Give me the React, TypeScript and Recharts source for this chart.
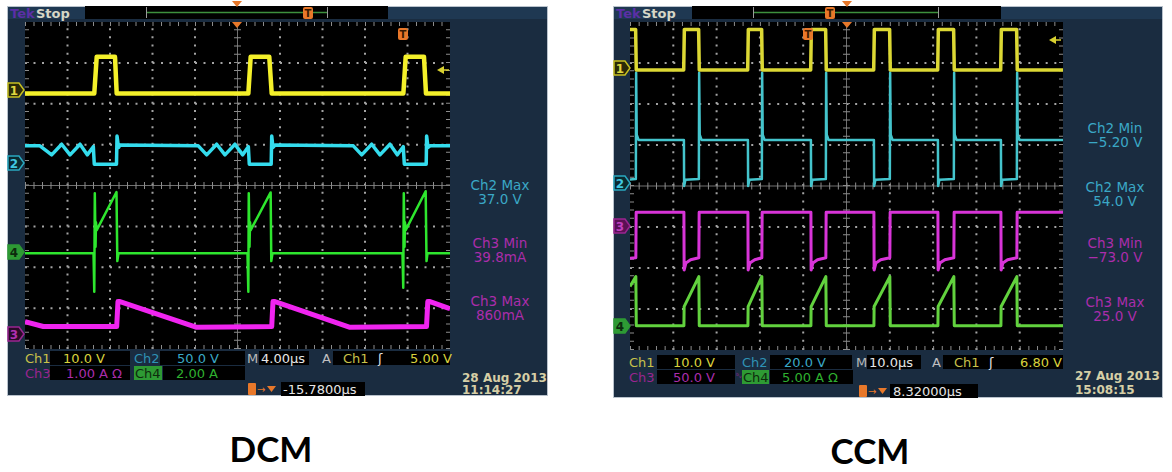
import React from 'react';
import { LineChart, Line, XAxis, YAxis, ReferenceLine } from 'recharts';

type P = { t: number; v: number };

// ---------- DCM scope (4 µs/div, values in screen divisions, centre = 0) ----------
const dcmCh1: P[] = [
  { t: 0, v: 2.25 }, { t: 6.52, v: 2.25 }, { t: 6.75, v: 3.15 }, { t: 8.47, v: 3.15 }, { t: 8.63, v: 2.25 },
  { t: 21.02, v: 2.25 }, { t: 21.24, v: 3.15 }, { t: 22.99, v: 3.15 }, { t: 23.22, v: 2.25 },
  { t: 35.61, v: 2.25 }, { t: 35.83, v: 3.15 }, { t: 37.55, v: 3.15 }, { t: 37.74, v: 2.25 }, { t: 40, v: 2.25 },
];
const dcmCh2: P[] = [
  { t: 0, v: 0.97 }, { t: 1.41, v: 0.97 }, { t: 2.51, v: 0.75 }, { t: 3.45, v: 1.01 }, { t: 4.24, v: 0.75 },
  { t: 5.18, v: 1.01 }, { t: 5.86, v: 0.75 }, { t: 6.43, v: 0.95 }, { t: 6.52, v: 0.52 }, { t: 8.47, v: 0.52 },
  { t: 8.61, v: 0.52 }, { t: 8.66, v: 1.21 }, { t: 8.8, v: 0.93 }, { t: 8.94, v: 0.99 }, { t: 16.31, v: 0.97 },
  { t: 17.1, v: 0.75 }, { t: 18.04, v: 1.01 }, { t: 18.82, v: 0.75 }, { t: 19.76, v: 1.01 }, { t: 20.49, v: 0.75 },
  { t: 21.02, v: 0.95 }, { t: 21.11, v: 0.52 }, { t: 23.06, v: 0.52 }, { t: 23.17, v: 0.52 }, { t: 23.22, v: 1.21 },
  { t: 23.34, v: 0.93 }, { t: 23.53, v: 0.99 }, { t: 30.9, v: 0.97 }, { t: 31.69, v: 0.75 }, { t: 32.63, v: 1.01 },
  { t: 33.41, v: 0.75 }, { t: 34.35, v: 1.01 }, { t: 35.04, v: 0.75 }, { t: 35.6, v: 0.95 }, { t: 35.7, v: 0.52 },
  { t: 37.58, v: 0.52 }, { t: 37.76, v: 0.52 }, { t: 37.8, v: 1.21 }, { t: 37.93, v: 0.93 }, { t: 38.12, v: 0.97 },
  { t: 40, v: 0.97 },
];
const dcmCh3: P[] = [
  { t: 0, v: -3.33 }, { t: 1.72, v: -3.45 }, { t: 8.63, v: -3.45 }, { t: 8.75, v: -2.84 }, { t: 8.94, v: -2.84 },
  { t: 16.16, v: -3.47 }, { t: 23.22, v: -3.45 }, { t: 23.34, v: -2.84 }, { t: 23.53, v: -2.84 },
  { t: 30.59, v: -3.47 }, { t: 37.79, v: -3.45 }, { t: 37.91, v: -2.84 }, { t: 38.12, v: -2.84 },
  { t: 39.84, v: -3.0 }, { t: 40, v: -3.01 },
];
const dcmCh4: P[] = [
  { t: 0, v: -1.66 }, { t: 6.45, v: -1.66 }, { t: 6.52, v: -2.6 }, { t: 6.57, v: -0.19 }, { t: 6.64, v: -1.5 },
  { t: 6.68, v: -0.9 }, { t: 6.75, v: -1.09 }, { t: 8.61, v: -0.16 }, { t: 8.69, v: -1.85 }, { t: 8.8, v: -1.66 },
  { t: 20.94, v: -1.66 }, { t: 21.02, v: -2.6 }, { t: 21.06, v: -0.19 }, { t: 21.13, v: -1.5 }, { t: 21.18, v: -0.9 },
  { t: 21.24, v: -1.09 }, { t: 23.12, v: -0.17 }, { t: 23.18, v: -1.85 }, { t: 23.29, v: -1.66 },
  { t: 35.53, v: -1.66 }, { t: 35.6, v: -2.5 }, { t: 35.65, v: -0.19 }, { t: 35.72, v: -1.5 }, { t: 35.76, v: -0.9 },
  { t: 35.83, v: -1.09 }, { t: 37.71, v: -0.14 }, { t: 37.79, v: -1.85 }, { t: 37.88, v: -1.66 }, { t: 40, v: -1.66 },
];

// ---------- CCM scope (10 µs/div) ----------
const ccmCh1: P[] = [
  { t: 0, v: 3.82 }, { t: 1.3, v: 3.82 }, { t: 1.45, v: 2.83 }, { t: 12.4, v: 2.83 }, { t: 12.55, v: 3.82 },
  { t: 15.85, v: 3.82 }, { t: 16.0, v: 2.83 }, { t: 27.18, v: 2.83 }, { t: 27.33, v: 3.82 }, { t: 30.4, v: 3.82 },
  { t: 30.55, v: 2.83 }, { t: 41.73, v: 2.83 }, { t: 41.88, v: 3.82 }, { t: 45.18, v: 3.82 }, { t: 45.33, v: 2.83 },
  { t: 56.28, v: 2.83 }, { t: 56.43, v: 3.82 }, { t: 59.96, v: 3.82 }, { t: 60.11, v: 2.83 }, { t: 71.06, v: 2.83 },
  { t: 71.21, v: 3.82 }, { t: 74.74, v: 3.82 }, { t: 74.89, v: 2.83 }, { t: 85.61, v: 2.83 }, { t: 85.76, v: 3.82 },
  { t: 89.29, v: 3.82 }, { t: 89.44, v: 2.83 }, { t: 100, v: 2.83 },
];
const ccmCh2: P[] = [
  { t: 0, v: 0.16 }, { t: 1.35, v: 0.17 }, { t: 1.42, v: 2.76 }, { t: 1.55, v: 1.25 }, { t: 2.0, v: 1.12 },
  { t: 12.45, v: 1.12 }, { t: 12.5, v: 0.0 }, { t: 12.8, v: 0.15 }, { t: 15.9, v: 0.17 }, { t: 15.97, v: 2.76 },
  { t: 16.1, v: 1.25 }, { t: 16.55, v: 1.12 }, { t: 27.23, v: 1.12 }, { t: 27.28, v: 0.0 }, { t: 27.58, v: 0.15 },
  { t: 30.45, v: 0.17 }, { t: 30.52, v: 2.76 }, { t: 30.65, v: 1.25 }, { t: 31.1, v: 1.12 }, { t: 41.78, v: 1.12 },
  { t: 41.83, v: 0.0 }, { t: 42.13, v: 0.15 }, { t: 45.23, v: 0.17 }, { t: 45.3, v: 2.76 }, { t: 45.43, v: 1.25 },
  { t: 45.88, v: 1.12 }, { t: 56.33, v: 1.12 }, { t: 56.38, v: 0.0 }, { t: 56.68, v: 0.15 }, { t: 60.01, v: 0.17 },
  { t: 60.08, v: 2.76 }, { t: 60.21, v: 1.25 }, { t: 60.66, v: 1.12 }, { t: 71.11, v: 1.12 }, { t: 71.16, v: 0.0 },
  { t: 71.46, v: 0.15 }, { t: 74.79, v: 0.17 }, { t: 74.86, v: 2.76 }, { t: 74.99, v: 1.25 }, { t: 75.44, v: 1.12 },
  { t: 85.66, v: 1.12 }, { t: 85.71, v: 0.0 }, { t: 86.01, v: 0.15 }, { t: 89.34, v: 0.17 }, { t: 89.41, v: 2.76 },
  { t: 89.54, v: 1.25 }, { t: 89.99, v: 1.12 }, { t: 100, v: 1.12 },
];
const ccmCh3: P[] = [
  { t: 0, v: -1.76 }, { t: 1.35, v: -1.75 }, { t: 1.42, v: -0.64 }, { t: 12.45, v: -0.64 }, { t: 12.5, v: -2.05 },
  { t: 12.9, v: -1.88 }, { t: 14.0, v: -1.8 }, { t: 15.9, v: -1.75 }, { t: 15.97, v: -0.64 }, { t: 27.23, v: -0.64 },
  { t: 27.28, v: -2.05 }, { t: 27.68, v: -1.88 }, { t: 28.8, v: -1.8 }, { t: 30.45, v: -1.75 }, { t: 30.52, v: -0.64 },
  { t: 41.78, v: -0.64 }, { t: 41.83, v: -2.05 }, { t: 42.23, v: -1.88 }, { t: 43.3, v: -1.8 }, { t: 45.23, v: -1.75 },
  { t: 45.3, v: -0.64 }, { t: 56.33, v: -0.64 }, { t: 56.38, v: -2.05 }, { t: 56.78, v: -1.88 }, { t: 57.9, v: -1.8 },
  { t: 60.01, v: -1.75 }, { t: 60.08, v: -0.64 }, { t: 71.11, v: -0.64 }, { t: 71.16, v: -2.05 }, { t: 71.56, v: -1.88 },
  { t: 72.7, v: -1.8 }, { t: 74.79, v: -1.75 }, { t: 74.86, v: -0.64 }, { t: 85.66, v: -0.64 }, { t: 85.71, v: -2.05 },
  { t: 86.11, v: -1.88 }, { t: 87.2, v: -1.8 }, { t: 89.34, v: -1.75 }, { t: 89.41, v: -0.64 }, { t: 100, v: -0.64 },
];
const ccmCh4: P[] = [
  { t: 0, v: -2.45 }, { t: 1.35, v: -2.21 }, { t: 1.45, v: -3.41 }, { t: 12.45, v: -3.41 }, { t: 12.5, v: -2.94 },
  { t: 15.9, v: -2.21 }, { t: 16.0, v: -3.41 }, { t: 27.23, v: -3.41 }, { t: 27.28, v: -2.94 }, { t: 30.45, v: -2.21 },
  { t: 30.55, v: -3.41 }, { t: 41.78, v: -3.41 }, { t: 41.83, v: -2.94 }, { t: 45.23, v: -2.21 }, { t: 45.33, v: -3.41 },
  { t: 56.33, v: -3.41 }, { t: 56.38, v: -2.94 }, { t: 60.01, v: -2.21 }, { t: 60.11, v: -3.41 }, { t: 71.11, v: -3.41 },
  { t: 71.16, v: -2.94 }, { t: 74.79, v: -2.21 }, { t: 74.89, v: -3.41 }, { t: 85.66, v: -3.41 }, { t: 85.71, v: -2.94 },
  { t: 89.34, v: -2.21 }, { t: 89.44, v: -3.41 }, { t: 100, v: -3.41 },
];

const dcmTimeTicks = [0, 4, 8, 12, 16, 20, 24, 28, 32, 36, 40];
const ccmTimeTicks = [0, 10, 20, 30, 40, 50, 60, 70, 80, 90, 100];
const divTicks = [-4, -3, -2, -1, 0, 1, 2, 3, 4];

const F = "'DejaVu Sans', Verdana, sans-serif";
const FRAME = '#1a2c40';
const FRAME2 = '#1f3852';
const GRID = '#8c8c8c';
const DOT = '#a4a4a4';

type Series = { data: P[]; color: string; width: number };

function ScopeChart({ w, h, xMax, xTicks, series }: { w: number; h: number; xMax: number; xTicks: number[]; series: Series[] }) {
  const hMinor = w / 50;
  const vMinor = h / 40;
  const innerX = xTicks.filter((t) => t !== 0 && t !== xMax && t !== xMax / 2);
  const innerY = divTicks.filter((t) => t !== 0 && t !== 4 && t !== -4);
  return (
    <LineChart width={w} height={h} margin={{ top: 0, right: 0, bottom: 0, left: 0 }}>
      <XAxis type="number" dataKey="t" domain={[0, xMax]} ticks={xTicks} hide allowDataOverflow />
      <YAxis type="number" dataKey="v" domain={[-4, 4]} ticks={divTicks} hide allowDataOverflow />
      {innerY.map((y) => (
        <ReferenceLine key={'h' + y} y={y} stroke={DOT} strokeWidth={2} strokeDasharray={`2 ${hMinor - 2}`} />
      ))}
      {innerX.map((x) => (
        <ReferenceLine key={'v' + x} x={x} stroke={DOT} strokeWidth={2} strokeDasharray={`2 ${vMinor - 2}`} />
      ))}
      <ReferenceLine x={xMax / 2} stroke="#707070" strokeWidth={1} />
      <ReferenceLine y={0} stroke="#707070" strokeWidth={1} />
      <ReferenceLine x={xMax / 2} stroke={GRID} strokeWidth={7} strokeDasharray={`1 ${vMinor - 1}`} />
      <ReferenceLine y={0} stroke={GRID} strokeWidth={7} strokeDasharray={`1 ${hMinor - 1}`} />
      <ReferenceLine x={0} stroke={GRID} strokeWidth={8} strokeDasharray={`1 ${vMinor - 1}`} />
      <ReferenceLine x={xMax} stroke={GRID} strokeWidth={8} strokeDasharray={`1 ${vMinor - 1}`} />
      <ReferenceLine y={4} stroke={GRID} strokeWidth={8} strokeDasharray={`1 ${hMinor - 1}`} />
      <ReferenceLine y={-4} stroke={GRID} strokeWidth={8} strokeDasharray={`1 ${hMinor - 1}`} />
      {series.map((s, i) => (
        <Line key={i} data={s.data} dataKey="v" type="linear" stroke={s.color} strokeWidth={s.width}
          dot={false} activeDot={false} isAnimationActive={false} strokeLinejoin="round" />
      ))}
    </LineChart>
  );
}

function Tx({ x, y, c, children, size = 13, weight = 'normal', anchor = 'start' }: any) {
  return (
    <text x={x} y={y} fill={c} fontSize={size} fontFamily={F} fontWeight={weight} textAnchor={anchor} dominantBaseline="central">
      {children}
    </text>
  );
}

function Tag({ x, y, label, stroke, fill, tc }: any) {
  return (
    <g>
      <polygon points={`${x},${y - 7} ${x + 11},${y - 7} ${x + 16},${y} ${x + 11},${y + 7} ${x},${y + 7}`}
        fill={fill} stroke={stroke} strokeWidth={1.5} />
      <Tx x={x + 6} y={y + 0.5} c={tc} size={12} weight="bold" anchor="middle">{label}</Tx>
    </g>
  );
}

function Tri({ x, y }: any) {
  return <polygon points={`${x - 5},${y} ${x + 5},${y} ${x},${y + 6}`} fill="#e8782a" />;
}

function TMark({ x, y }: any) {
  return (
    <g>
      <rect x={x - 5} y={y - 6} width={10} height={12} rx={2} fill="#e8782a" />
      <Tx x={x} y={y} c="#3a1a00" size={10} weight="bold" anchor="middle">T</Tx>
    </g>
  );
}

function Box({ x, y, w, h = 14, fill = '#000' }: any) {
  return <rect x={x} y={y} width={w} height={h} fill={fill} />;
}

const Y1 = '#c9c24a';
const Y2 = '#d8d23c';
const C1 = '#2f93b5';
const C2 = '#3aa8c6';
const M1 = '#9a2590';
const M2 = '#ab2dab';
const G1 = '#2fb02f';
const W = '#e6e6e6';
const D = '#d6cfa6';

export default function App() {
  return (
    <div style={{ position: 'absolute', left: 0, top: 0, width: 1172, height: 472, background: '#fff', overflow: 'hidden' }}>
      {/* background layer */}
      <svg width={1172} height={472} style={{ position: 'absolute', left: 0, top: 0 }}>
        <rect x={0} y={0} width={1172} height={472} fill="#fff" />
        {/* left frame */}
        <rect x={7.5} y={6.5} width={540} height={389} fill={FRAME} stroke="#b9c2cc" strokeWidth={1} />
        <rect x={8} y={7} width={77} height={12} fill={FRAME2} />
        <rect x={388} y={7} width={159} height={12} fill={FRAME2} />
        <rect x={85} y={6} width={303} height={13} fill="#000" />
        <rect x={25} y={22} width={425} height={327} fill="#000" />
        {/* right frame */}
        <rect x={613.5} y={6.5} width={549} height={391} fill={FRAME} stroke="#b9c2cc" strokeWidth={1} />
        <rect x={614} y={7} width={78} height={12} fill={FRAME2} />
        <rect x={1001} y={7} width={161} height={12} fill={FRAME2} />
        <rect x={692} y={6} width={309} height={13} fill="#000" />
        <rect x={630} y={22} width={433} height={328} fill="#000" />
        {/* left bottom boxes */}
        <Box x={50} y={351} w={80} />
        <Box x={160} y={351} w={85} />
        <Box x={259} y={351} w={50} />
        <Box x={333} y={351} w={117} />
        <Box x={50} y={366} w={80} />
        <Box x={134} y={366} w={28} fill="#2e9a34" />
        <Box x={163} y={366} w={82} />
        <Box x={281} y={382} w={84} />
        {/* right bottom boxes */}
        <Box x={657} y={355} w={78} />
        <Box x={770} y={355} w={82} />
        <Box x={867} y={355} w={54} />
        <Box x={943} y={355} w={120} />
        <Box x={657} y={370} w={78} />
        <Box x={742} y={370} w={27} fill="#2e9a34" />
        <Box x={770} y={370} w={83} />
        <Box x={890} y={384} w={88} />
      </svg>

      {/* charts */}
      <div style={{ position: 'absolute', left: 25, top: 22 }}>
        <ScopeChart w={425} h={327} xMax={40} xTicks={dcmTimeTicks}
          series={[
            { data: dcmCh3, color: '#f024f0', width: 5 },
            { data: dcmCh4, color: '#2ee62e', width: 2.5 },
            { data: dcmCh2, color: '#34dced', width: 3.5 },
            { data: dcmCh1, color: '#f4f02a', width: 4.5 },
          ]} />
      </div>
      <div style={{ position: 'absolute', left: 630, top: 22 }}>
        <ScopeChart w={433} h={328} xMax={100} xTicks={ccmTimeTicks}
          series={[
            { data: ccmCh3, color: '#d834d8', width: 3 },
            { data: ccmCh4, color: '#62d23e', width: 3 },
            { data: ccmCh2, color: '#44c4cc', width: 2.5 },
            { data: ccmCh1, color: '#dcd834', width: 3.5 },
          ]} />
      </div>

      {/* overlay layer */}
      <svg width={1172} height={472} style={{ position: 'absolute', left: 0, top: 0, pointerEvents: 'none' }}>
        {/* ===== LEFT (DCM) ===== */}
        <Tx x={10} y={13} c="#5b2fa6" size={13} weight="bold">Tek</Tx>
        <Tx x={36} y={13} c="#d6d6c6" size={13} weight="bold">Stop</Tx>
        <line x1={146.5} y1={7} x2={146.5} y2={18} stroke="#9a9a9a" />
        <line x1={327.5} y1={7} x2={327.5} y2={18} stroke="#9a9a9a" />
        <line x1={147} y1={12.5} x2={327} y2={12.5} stroke="#3d8f3d" strokeWidth={1.5} />
        <TMark x={308} y={13} />
        <Tri x={237} y={1} />
        <Tri x={237} y={22} />
        <TMark x={403} y={34} />
        <polygon points="437,70 444,66 444,74" fill="#d8d030" />
        <line x1={443} y1={70} x2={449} y2={70} stroke="#d8d030" strokeWidth={1.5} />

        <Tag x={8} y={90} label="1" stroke="#c8c020" fill="#2a2a08" tc="#e0d840" />
        <Tag x={8} y={163} label="2" stroke="#2aa8c0" fill="#0a2a30" tc="#40c8e0" />
        <Tag x={8} y={252} label="4" stroke="#2e9a34" fill="#2e9a34" tc="#0d2a0d" />
        <Tag x={8} y={334} label="3" stroke="#9a2590" fill="#2a0a28" tc="#b030b0" />

        <Tx x={500} y={185} c={C2} size={13.5} anchor="middle">Ch2 Max</Tx>
        <Tx x={500} y={199} c={C2} size={13.5} anchor="middle">37.0 V</Tx>
        <Tx x={500} y={243} c={M2} size={13.5} anchor="middle">Ch3 Min</Tx>
        <Tx x={500} y={257} c={M2} size={13.5} anchor="middle">39.8mA</Tx>
        <Tx x={500} y={301} c={M2} size={13.5} anchor="middle">Ch3 Max</Tx>
        <Tx x={500} y={315} c={M2} size={13.5} anchor="middle">860mA</Tx>

        <Tx x={25} y={358} c={Y1}>Ch1</Tx>
        <Tx x={63} y={358} c={Y2}>10.0 V</Tx>
        <Tx x={134} y={358} c={C1}>Ch2</Tx>
        <Tx x={177} y={358} c={C2}>50.0 V</Tx>
        <Tx x={247} y={358} c="#b8b8b8">M</Tx>
        <Tx x={261} y={358} c={W}>4.00µs</Tx>
        <Tx x={322} y={358} c="#c0c0c0">A</Tx>
        <Tx x={343} y={358} c={Y1}>Ch1</Tx>
        <Tx x={378} y={358} c={W}>ʃ</Tx>
        <Tx x={410} y={358} c={Y2}>5.00 V</Tx>
        <Tx x={25} y={373} c={M1}>Ch3</Tx>
        <Tx x={66} y={373} c={M2}>1.00 A Ω</Tx>
        <Tx x={135} y={373} c="#0d2a0d">Ch4</Tx>
        <Tx x={176} y={373} c={G1}>2.00 A</Tx>
        <rect x={248} y={383} width={8} height={12} rx={1} fill="#e8782a" />
        <Tx x={257} y={389} c="#e8782a" size={10}>→</Tx>
        <polygon points="267,386 276,386 271.5,392" fill="#e8782a" />
        <Tx x={283} y={389} c={W}>-15.7800µs</Tx>
        <Tx x={462} y={378} c={D} size={12} weight="bold">28 Aug 2013</Tx>
        <Tx x={462} y={390} c={D} size={12} weight="bold">11:14:27</Tx>

        {/* ===== RIGHT (CCM) ===== */}
        <Tx x={616} y={13} c="#5b2fa6" size={13} weight="bold">Tek</Tx>
        <Tx x={642} y={13} c="#d6d6c6" size={13} weight="bold">Stop</Tx>
        <line x1={753.5} y1={7} x2={753.5} y2={18} stroke="#9a9a9a" />
        <line x1={938.5} y1={7} x2={938.5} y2={18} stroke="#9a9a9a" />
        <line x1={754} y1={12.5} x2={938} y2={12.5} stroke="#3d8f3d" strokeWidth={1.5} />
        <TMark x={830} y={13} />
        <Tri x={847} y={1} />
        <Tri x={847} y={22} />
        <TMark x={808} y={34} />
        <polygon points="1049,40 1056,36 1056,44" fill="#d8d030" />
        <line x1={1055} y1={40} x2={1061} y2={40} stroke="#d8d030" strokeWidth={1.5} />

        <Tag x={614} y={68} label="1" stroke="#c8c020" fill="#2a2a08" tc="#e0d840" />
        <Tag x={614} y={183} label="2" stroke="#2aa8c0" fill="#0a2a30" tc="#40c8e0" />
        <Tag x={614} y={226} label="3" stroke="#9a2590" fill="#5a1054" tc="#c040c0" />
        <Tag x={614} y={326} label="4" stroke="#2e9a34" fill="#2e9a34" tc="#0d2a0d" />

        <Tx x={1115} y={128} c={C2} size={13.5} anchor="middle">Ch2 Min</Tx>
        <Tx x={1115} y={142} c={C2} size={13.5} anchor="middle">−5.20 V</Tx>
        <Tx x={1115} y={187} c={C2} size={13.5} anchor="middle">Ch2 Max</Tx>
        <Tx x={1115} y={201} c={C2} size={13.5} anchor="middle">54.0 V</Tx>
        <Tx x={1115} y={243} c={M2} size={13.5} anchor="middle">Ch3 Min</Tx>
        <Tx x={1115} y={257} c={M2} size={13.5} anchor="middle">−73.0 V</Tx>
        <Tx x={1115} y={302} c={M2} size={13.5} anchor="middle">Ch3 Max</Tx>
        <Tx x={1115} y={316} c={M2} size={13.5} anchor="middle">25.0 V</Tx>

        <Tx x={629} y={362} c={Y1}>Ch1</Tx>
        <Tx x={673} y={362} c={Y2}>10.0 V</Tx>
        <Tx x={742} y={362} c={C1}>Ch2</Tx>
        <Tx x={784} y={362} c={C2}>20.0 V</Tx>
        <Tx x={856} y={362} c="#b8b8b8">M</Tx>
        <Tx x={869} y={362} c={W}>10.0µs</Tx>
        <Tx x={932} y={362} c="#c0c0c0">A</Tx>
        <Tx x={954} y={362} c={Y1}>Ch1</Tx>
        <Tx x={989} y={362} c={W}>ʃ</Tx>
        <Tx x={1020} y={362} c={Y2}>6.80 V</Tx>
        <Tx x={629} y={377} c={M1}>Ch3</Tx>
        <Tx x={673} y={377} c={M2}>50.0 V</Tx>
        <Tx x={736} y={376} c={M1} size={7}>ᵇᵥ</Tx>
        <Tx x={743} y={377} c="#0d2a0d">Ch4</Tx>
        <Tx x={782} y={377} c={G1}>5.00 A Ω</Tx>
        <rect x={859} y={385} width={8} height={12} rx={1} fill="#e8782a" />
        <Tx x={868} y={391} c="#e8782a" size={10}>→</Tx>
        <polygon points="878,388 887,388 882.5,394" fill="#e8782a" />
        <Tx x={893} y={391} c={W}>8.32000µs</Tx>
        <Tx x={1075} y={376} c={D} size={12} weight="bold">27 Aug 2013</Tx>
        <Tx x={1075} y={390} c={D} size={12} weight="bold">15:08:15</Tx>

        {/* captions */}
        <text x={271} y={462} fill="#000" fontSize={35} fontWeight="bold" fontFamily="Lato, 'Open Sans', sans-serif" textAnchor="middle">DCM</text>
        <text x={870} y={464} fill="#000" fontSize={35} fontWeight="bold" fontFamily="Lato, 'Open Sans', sans-serif" textAnchor="middle">CCM</text>
      </svg>
    </div>
  );
}
